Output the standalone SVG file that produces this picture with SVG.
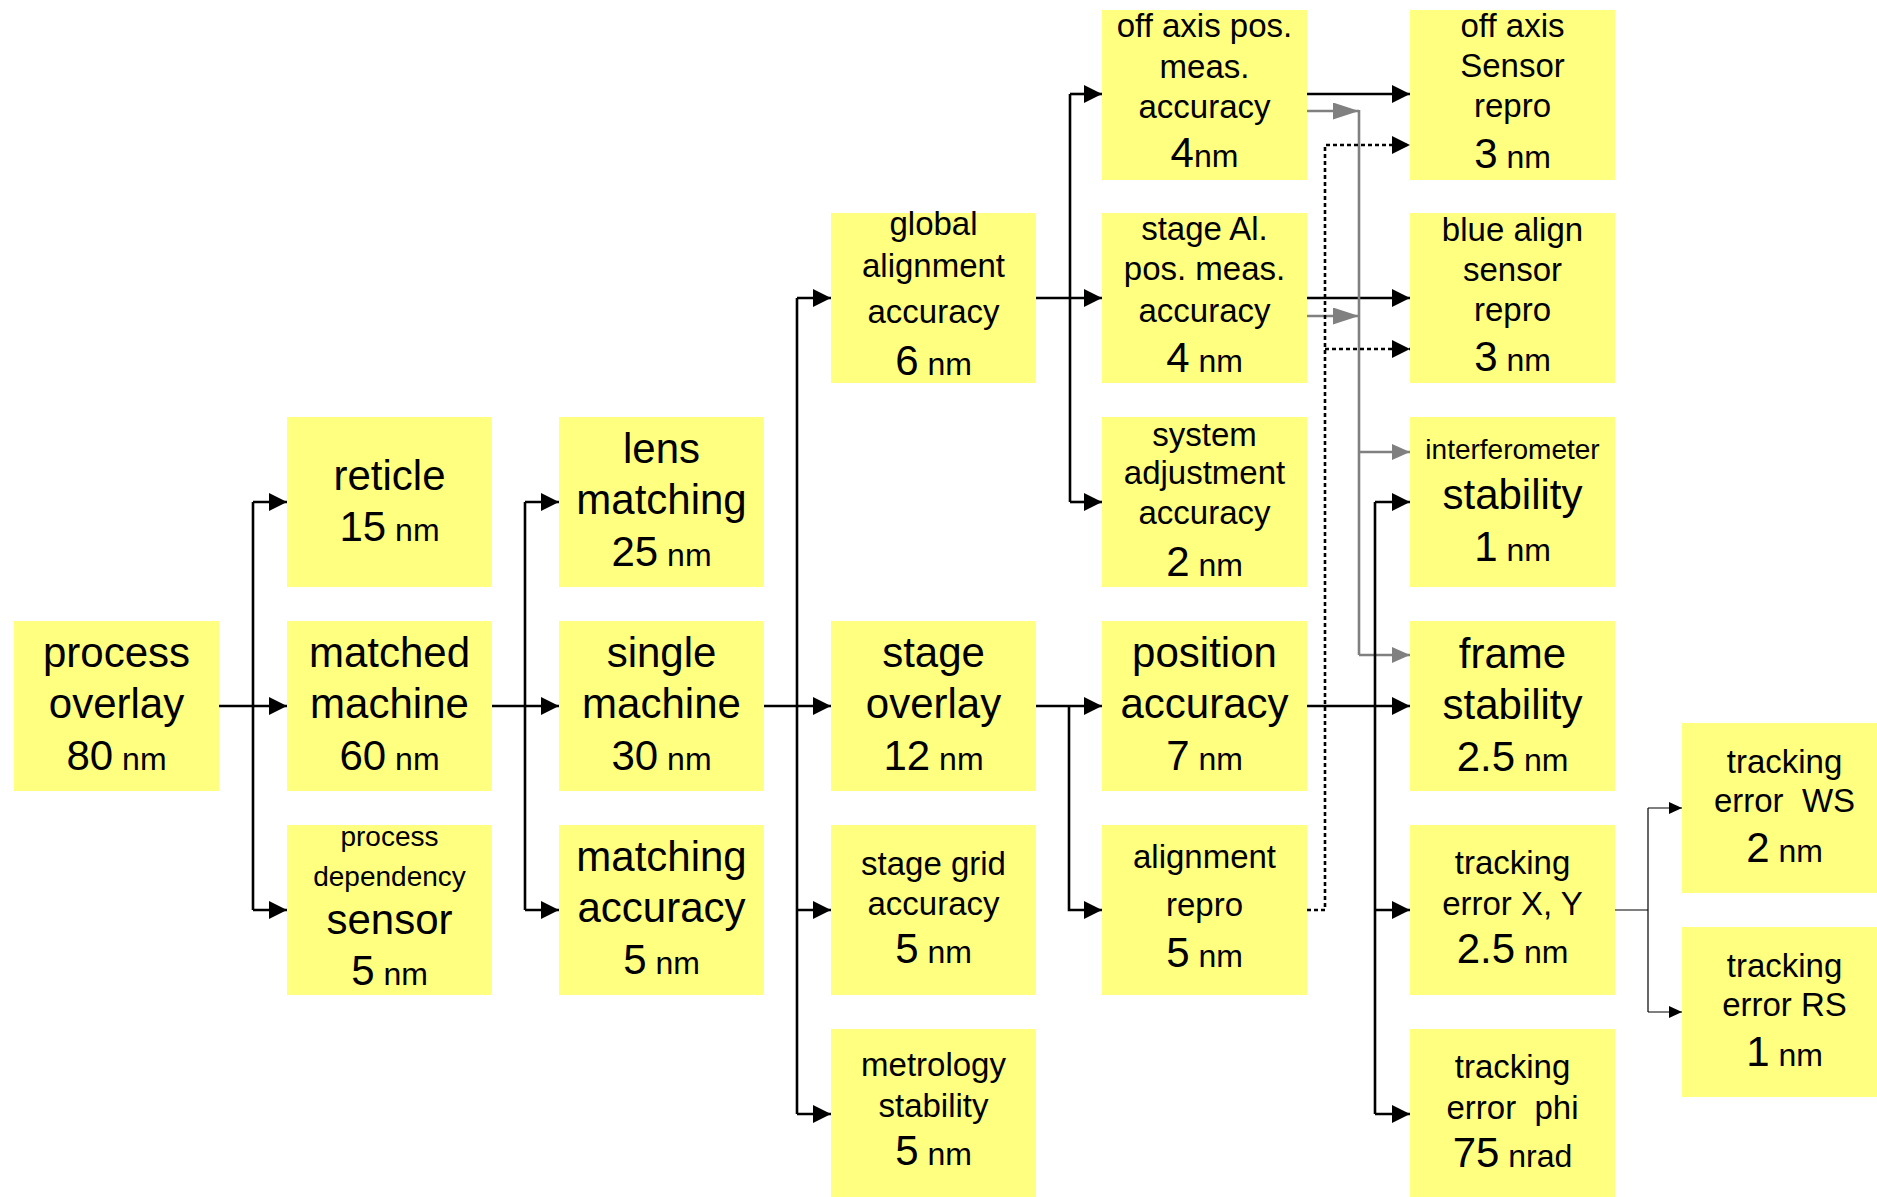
<svg xmlns="http://www.w3.org/2000/svg" width="1877" height="1197" viewBox="0 0 1877 1197">
<style>
.b{fill:#ffff80}
text{font-family:"Liberation Sans",Arial,sans-serif;fill:#000;text-anchor:middle}
.L{font-size:42px}
.M{font-size:33px}
.S{font-size:28px}
.u{font-size:32px}
.k{fill:none;stroke:#000;stroke-width:2.6}
.g{fill:none;stroke:#808080;stroke-width:2.6}
.d{fill:none;stroke:#000;stroke-width:2.6;stroke-dasharray:4 3}
.t{fill:none;stroke:#000;stroke-width:1.2}
</style>
<defs>
<marker id="ak" viewBox="0 0 18 18" refX="18" refY="9" markerWidth="18" markerHeight="18" markerUnits="userSpaceOnUse" orient="auto"><path d="M0,0L18,9L0,18z" fill="#000"/></marker>
<marker id="ag" viewBox="0 0 18 16" refX="18" refY="8" markerWidth="18" markerHeight="16" markerUnits="userSpaceOnUse" orient="auto"><path d="M0,0L18,8L0,16z" fill="#808080"/></marker>
<marker id="agl" viewBox="0 0 26 17" refX="26" refY="8.5" markerWidth="26" markerHeight="17" markerUnits="userSpaceOnUse" orient="auto"><path d="M0,0L26,8.5L0,17z" fill="#808080"/></marker>
<marker id="as" viewBox="0 0 13 12" refX="13" refY="6" markerWidth="13" markerHeight="12" markerUnits="userSpaceOnUse" orient="auto"><path d="M0,0L13,6L0,12z" fill="#000"/></marker>
</defs>
<g id="connectors">
<path class="k" d="M219,706H287" marker-end="url(#ak)"/>
<path class="k" d="M253,502V910"/>
<path class="k" d="M253,502H287" marker-end="url(#ak)"/>
<path class="k" d="M253,910H287" marker-end="url(#ak)"/>
<path class="k" d="M492,706H559" marker-end="url(#ak)"/>
<path class="k" d="M525,502V910"/>
<path class="k" d="M525,502H559" marker-end="url(#ak)"/>
<path class="k" d="M525,910H559" marker-end="url(#ak)"/>
<path class="k" d="M764,706H831" marker-end="url(#ak)"/>
<path class="k" d="M797,298V1114"/>
<path class="k" d="M797,298H831" marker-end="url(#ak)"/>
<path class="k" d="M797,910H831" marker-end="url(#ak)"/>
<path class="k" d="M797,1114H831" marker-end="url(#ak)"/>
<path class="k" d="M1035,298H1102" marker-end="url(#ak)"/>
<path class="k" d="M1070,94V502"/>
<path class="k" d="M1070,94H1102" marker-end="url(#ak)"/>
<path class="k" d="M1070,502H1102" marker-end="url(#ak)"/>
<path class="k" d="M1035,706H1102" marker-end="url(#ak)"/>
<path class="k" d="M1069,706V910H1102" marker-end="url(#ak)"/>
<path class="k" d="M1307,94H1410" marker-end="url(#ak)"/>
<path class="k" d="M1307,298H1410" marker-end="url(#ak)"/>
<path class="g" d="M1307,111H1359" marker-end="url(#agl)"/>
<path class="g" d="M1307,316H1359" marker-end="url(#agl)"/>
<path class="g" d="M1359,110V655"/>
<path class="g" d="M1359,452H1410" marker-end="url(#ag)"/>
<path class="g" d="M1359,655H1410" marker-end="url(#ag)"/>
<path class="d" d="M1307,910H1325V145H1410" marker-end="url(#ak)"/>
<path class="d" d="M1325,349H1410" marker-end="url(#ak)"/>
<path class="k" d="M1307,706H1410" marker-end="url(#ak)"/>
<path class="k" d="M1375,502V1114"/>
<path class="k" d="M1375,502H1410" marker-end="url(#ak)"/>
<path class="k" d="M1375,910H1410" marker-end="url(#ak)"/>
<path class="k" d="M1375,1114H1410" marker-end="url(#ak)"/>
<path class="t" d="M1615,910H1648"/>
<path class="t" d="M1648,808V1012"/>
<path class="t" d="M1648,808H1682" marker-end="url(#as)"/>
<path class="t" d="M1648,1012H1682" marker-end="url(#as)"/>
</g>
<g id="process-overlay"><rect class="b" x="14" y="621" width="205" height="170"/>
<text x="116.5" y="667" class="L">process</text><text x="116.5" y="718" class="L">overlay</text><text x="116.5" y="770" class="L">80<tspan class="u"> nm</tspan></text></g>
<g id="reticle"><rect class="b" x="287" y="417" width="205" height="170"/>
<text x="389.5" y="490" class="L">reticle</text><text x="389.5" y="541" class="L">15<tspan class="u"> nm</tspan></text></g>
<g id="matched-machine"><rect class="b" x="287" y="621" width="205" height="170"/>
<text x="389.5" y="667" class="L">matched</text><text x="389.5" y="718" class="L">machine</text><text x="389.5" y="770" class="L">60<tspan class="u"> nm</tspan></text></g>
<g id="process-dependency"><rect class="b" x="287" y="825" width="205" height="170"/>
<text x="389.5" y="846" class="S">process</text><text x="389.5" y="886" class="S">dependency</text><text x="389.5" y="934" class="L">sensor</text><text x="389.5" y="985" class="L">5<tspan class="u"> nm</tspan></text></g>
<g id="lens-matching"><rect class="b" x="559" y="417" width="205" height="170"/>
<text x="661.5" y="463" class="L">lens</text><text x="661.5" y="514" class="L">matching</text><text x="661.5" y="566" class="L">25<tspan class="u"> nm</tspan></text></g>
<g id="single-machine"><rect class="b" x="559" y="621" width="205" height="170"/>
<text x="661.5" y="667" class="L">single</text><text x="661.5" y="718" class="L">machine</text><text x="661.5" y="770" class="L">30<tspan class="u"> nm</tspan></text></g>
<g id="matching-accuracy"><rect class="b" x="559" y="825" width="205" height="170"/>
<text x="661.5" y="871" class="L">matching</text><text x="661.5" y="922" class="L">accuracy</text><text x="661.5" y="974" class="L">5<tspan class="u"> nm</tspan></text></g>
<g id="global-alignment"><rect class="b" x="831" y="213" width="205" height="170"/>
<text x="933.5" y="235" class="M">global</text><text x="933.5" y="277" class="M">alignment</text><text x="933.5" y="323" class="M">accuracy</text><text x="933.5" y="375" class="L">6<tspan class="u"> nm</tspan></text></g>
<g id="stage-overlay"><rect class="b" x="831" y="621" width="205" height="170"/>
<text x="933.5" y="667" class="L">stage</text><text x="933.5" y="718" class="L">overlay</text><text x="933.5" y="770" class="L">12<tspan class="u"> nm</tspan></text></g>
<g id="stage-grid"><rect class="b" x="831" y="825" width="205" height="170"/>
<text x="933.5" y="875" class="M">stage grid</text><text x="933.5" y="915" class="M">accuracy</text><text x="933.5" y="963" class="L">5<tspan class="u"> nm</tspan></text></g>
<g id="metrology-stability"><rect class="b" x="831" y="1029" width="205" height="170"/>
<text x="933.5" y="1076" class="M">metrology</text><text x="933.5" y="1117" class="M">stability</text><text x="933.5" y="1165" class="L">5<tspan class="u"> nm</tspan></text></g>
<g id="off-axis-pos"><rect class="b" x="1102" y="10" width="205" height="170"/>
<text x="1204.5" y="37" class="M">off axis pos.</text><text x="1204.5" y="78" class="M">meas.</text><text x="1204.5" y="118" class="M">accuracy</text><text x="1204.5" y="167" class="L">4<tspan class="u">nm</tspan></text></g>
<g id="stage-al"><rect class="b" x="1102" y="213" width="205" height="170"/>
<text x="1204.5" y="240" class="M">stage Al.</text><text x="1204.5" y="280" class="M">pos. meas.</text><text x="1204.5" y="322" class="M">accuracy</text><text x="1204.5" y="372" class="L">4<tspan class="u"> nm</tspan></text></g>
<g id="system-adjustment"><rect class="b" x="1102" y="417" width="205" height="170"/>
<text x="1204.5" y="446" class="M">system</text><text x="1204.5" y="484" class="M">adjustment</text><text x="1204.5" y="524" class="M">accuracy</text><text x="1204.5" y="576" class="L">2<tspan class="u"> nm</tspan></text></g>
<g id="position-accuracy"><rect class="b" x="1102" y="621" width="205" height="170"/>
<text x="1204.5" y="667" class="L">position</text><text x="1204.5" y="718" class="L">accuracy</text><text x="1204.5" y="770" class="L">7<tspan class="u"> nm</tspan></text></g>
<g id="alignment-repro"><rect class="b" x="1102" y="825" width="205" height="170"/>
<text x="1204.5" y="868" class="M">alignment</text><text x="1204.5" y="916" class="M">repro</text><text x="1204.5" y="967" class="L">5<tspan class="u"> nm</tspan></text></g>
<g id="off-axis-sensor"><rect class="b" x="1410" y="10" width="205" height="170"/>
<text x="1512.5" y="37" class="M">off axis</text><text x="1512.5" y="77" class="M">Sensor</text><text x="1512.5" y="117" class="M">repro</text><text x="1512.5" y="168" class="L">3<tspan class="u"> nm</tspan></text></g>
<g id="blue-align"><rect class="b" x="1410" y="213" width="205" height="170"/>
<text x="1512.5" y="241" class="M">blue align</text><text x="1512.5" y="281" class="M">sensor</text><text x="1512.5" y="321" class="M">repro</text><text x="1512.5" y="371" class="L">3<tspan class="u"> nm</tspan></text></g>
<g id="interferometer"><rect class="b" x="1410" y="417" width="205" height="170"/>
<text x="1512.5" y="459" class="S">interferometer</text><text x="1512.5" y="509" class="L">stability</text><text x="1512.5" y="561" class="L">1<tspan class="u"> nm</tspan></text></g>
<g id="frame-stability"><rect class="b" x="1410" y="621" width="205" height="170"/>
<text x="1512.5" y="668" class="L">frame</text><text x="1512.5" y="719" class="L">stability</text><text x="1512.5" y="771" class="L">2.5<tspan class="u"> nm</tspan></text></g>
<g id="tracking-xy"><rect class="b" x="1410" y="825" width="205" height="170"/>
<text x="1512.5" y="874" class="M">tracking</text><text x="1512.5" y="915" class="M">error X, Y</text><text x="1512.5" y="963" class="L">2.5<tspan class="u"> nm</tspan></text></g>
<g id="tracking-phi"><rect class="b" x="1410" y="1029" width="205" height="170"/>
<text x="1512.5" y="1078" class="M">tracking</text><text x="1512.5" y="1119" class="M">error&#160; phi</text><text x="1512.5" y="1167" class="L">75<tspan class="u"> nrad</tspan></text></g>
<g id="tracking-ws"><rect class="b" x="1682" y="723" width="205" height="170"/>
<text x="1784.5" y="773" class="M">tracking</text><text x="1784.5" y="812" class="M">error&#160; WS</text><text x="1784.5" y="862" class="L">2<tspan class="u"> nm</tspan></text></g>
<g id="tracking-rs"><rect class="b" x="1682" y="927" width="205" height="170"/>
<text x="1784.5" y="977" class="M">tracking</text><text x="1784.5" y="1016" class="M">error RS</text><text x="1784.5" y="1066" class="L">1<tspan class="u"> nm</tspan></text></g>
</svg>
